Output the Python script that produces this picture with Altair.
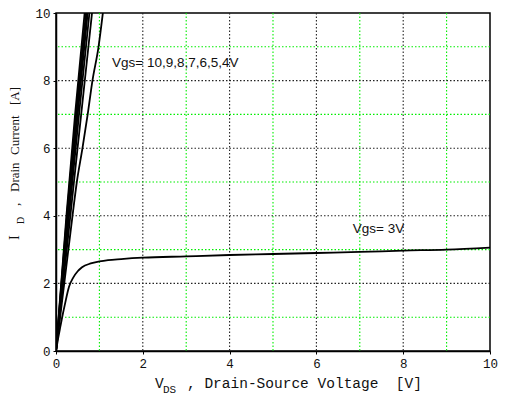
import altair as alt
import pandas as pd

# ---- data ----
vgs_names = ["10", "9", "8", "7", "6", "5", "4", "3"]
vds_10 = [0, 0.24, 0.44, 0.66]
id_10 = [0, 4, 7, 10]
vds_9 = [0, 0.25, 0.46, 0.69]
id_9 = [0, 4, 7, 10]
vds_8 = [0, 0.26, 0.48, 0.71]
id_8 = [0, 4, 7, 10]
vds_7 = [0, 0.28, 0.50, 0.73]
id_7 = [0, 4, 7, 10]
vds_6 = [0, 0.30, 0.53, 0.77]
id_6 = [0, 4, 7, 10]
vds_5 = [0, 0.33, 0.58, 0.83]
id_5 = [0, 4, 7, 10]
vds_4 = [0, 0.38, 0.48, 0.61, 0.73, 0.84, 0.98, 1.08]
id_4 = [0, 4, 5, 6, 7, 8, 9, 10]
vds_3 = [0, 0.05, 0.1, 0.15, 0.2, 0.3, 0.4, 0.5, 0.6, 0.8, 1.0, 1.2, 1.5, 2, 3, 4, 5, 6, 7, 8, 9, 10]
id_3 = [0, 0.38, 0.72, 1.05, 1.35, 1.9, 2.18, 2.36, 2.48, 2.59, 2.65, 2.69, 2.72, 2.76, 2.8, 2.84, 2.87, 2.9, 2.93, 2.97, 3.0, 3.06]

ann_x = [1.29, 6.84]
ann_y = [8.52, 3.61]
ann_text = ["Vgs= 10,9,8,7,6,5,4V", "Vgs= 3V"]

tick_values = list(range(0, 11))
grid_values = list(range(1, 10))

NB = "\u00a0"
x_title_main = "V"
x_title_sub = "DS"
x_title_rest = "," + NB + "Drain-Source" + NB + "Voltage" + NB + NB + "[V]"
y_title_main = "I"
y_title_sub = "D"
y_title_words = [",", "Drain", "Current", "[A]"]

# ---- build tables ----
series = [vds_10, vds_9, vds_8, vds_7, vds_6, vds_5, vds_4, vds_3]
currents = [id_10, id_9, id_8, id_7, id_6, id_5, id_4, id_3]
rows = []
for name, xs_, ys_ in zip(vgs_names, series, currents):
    for i, (a, b) in enumerate(zip(xs_, ys_)):
        rows.append({"vgs": name, "vds": a, "id": b, "o": i})
df = pd.DataFrame(rows)
ann = pd.DataFrame({"x": ann_x, "y": ann_y, "t": ann_text})
grid_df = pd.DataFrame({"v": grid_values,
                        "kind": ["major" if v % 2 == 0 else "minor" for v in grid_values]})

W, H = 434, 338

label_expr = "datum.value % 2 === 0 ? datum.label : ''"
tick_color = {"condition": {"test": "datum.value % 2 === 0", "value": "black"}, "value": "transparent"}


def make_axis():
    return alt.Axis(values=tick_values, labelExpr=label_expr, grid=False,
                    tickColor=tick_color, tickSize=3,
                    labelFont="Liberation Mono", labelFontSize=12.5, labelColor="#111111",
                    labelPadding=3, domainColor="black", domainWidth=1.5, title=None,
                    labelFlush=False)


xs = alt.Scale(domain=[0, 10], nice=False)
ys = alt.Scale(domain=[0, 10], nice=False)
grid_color = alt.Color("kind:N", scale=alt.Scale(domain=["major", "minor"],
                                                 range=["#222222", "#00ee00"]), legend=None)

vgrid = alt.Chart(grid_df).mark_rule(strokeDash=[1.5, 2], strokeWidth=1.1).encode(
    x=alt.X("v:Q", scale=xs, axis=make_axis()), color=grid_color)
hgrid = alt.Chart(grid_df).mark_rule(strokeDash=[1.5, 2], strokeWidth=1.1).encode(
    y=alt.Y("v:Q", scale=ys, axis=make_axis()), color=grid_color)

lines = alt.Chart(df).mark_line(color="black", strokeWidth=1.8, clip=True,
                                interpolate="monotone").encode(
    x=alt.X("vds:Q", scale=xs),
    y=alt.Y("id:Q", scale=ys),
    detail="vgs:N",
    order="o:Q",
)

labels = alt.Chart(ann).mark_text(align="left", baseline="middle", font="Liberation Sans",
                                  fontSize=13.5, color="#111111").encode(
    x=alt.X("x:Q", scale=xs), y=alt.Y("y:Q", scale=ys), text="t:N")


def txt(s, x, y, size, font, angle=0):
    d = pd.DataFrame({"t": [s]})
    return alt.Chart(d).mark_text(align="left", baseline="alphabetic", font=font,
                                  fontSize=size, color="#111111", angle=angle).encode(
        x=alt.value(x), y=alt.value(y), text="t:N")


titles = [
    txt(x_title_main, 99, 375, 14.5, "Liberation Mono"),
    txt(x_title_sub, 107, 380, 11, "Liberation Mono"),
    txt(x_title_rest, 131, 375, 14.5, "Liberation Mono"),
    txt(y_title_main, -37, 227, 14, "Liberation Serif", 270),
    txt(y_title_sub, -32, 211, 10, "Liberation Serif", 270),
]
word_bottoms = [193, 179, 142, 92]
for w, b in zip(y_title_words, word_bottoms):
    titles.append(txt(w, -37, b, 13, "Liberation Serif", 270))

chart = alt.layer(vgrid, hgrid, lines, labels, *titles).properties(
    width=W, height=H,
    padding={"left": 48, "top": 5, "right": 12, "bottom": 50},
    autosize=alt.AutoSizeParams(type="none"),
).resolve_scale(color="shared").configure_view(stroke="black", strokeWidth=1.5)

chart.save("out.html", embed_options={"renderer": "svg", "actions": False})
